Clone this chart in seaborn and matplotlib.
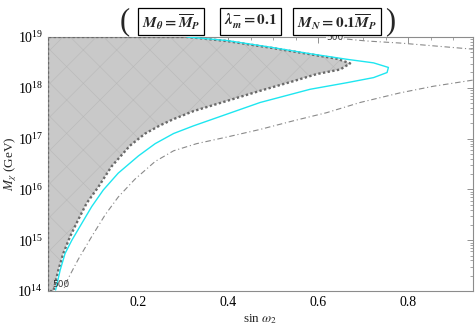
import numpy as np
import pandas as pd
import seaborn as sns
import matplotlib.pyplot as plt

# contorno da regiao excluida (cinza): sin w2 e log10(M_chi/GeV)
regiao_x = [0.0, 0.0, 0.308, 0.397, 0.493, 0.582, 0.642, 0.671,
            0.649, 0.597, 0.545, 0.471, 0.397, 0.323, 0.278, 0.249, 0.216,
            0.182, 0.141, 0.112, 0.086, 0.067, 0.049, 0.034, 0.023, 0.012]
regiao_logy = [14.0, 19.0, 19.0, 18.92, 18.79, 18.66, 18.57, 18.48,
               18.36, 18.27, 18.13, 17.94, 17.74, 17.54, 17.38, 17.26, 17.10,
               16.86, 16.45, 16.05, 15.73, 15.40, 15.07, 14.74, 14.41, 14.0]

# curva ciano
ciano_x = [0.308, 0.397, 0.493, 0.582, 0.664, 0.723, 0.756, 0.753, 0.723,
           0.664, 0.582, 0.471, 0.397, 0.323, 0.279, 0.238, 0.201,
           0.156, 0.123, 0.097, 0.075, 0.053, 0.038, 0.027, 0.017]
ciano_logy = [19.0, 18.93, 18.80, 18.67, 18.56, 18.49, 18.40, 18.30, 18.20,
              18.10, 17.97, 17.71, 17.48, 17.25, 17.10, 16.90, 16.66,
              16.32, 15.99, 15.66, 15.33, 15.0, 14.74, 14.41, 14.02]

# curva traco-ponto (contorno 500), dois ramos
tp_sup_x = [0.61, 0.649, 0.708, 0.782, 0.943]
tp_sup_logy = [19.0, 18.97, 18.92, 18.88, 18.76]
tp_inf_x = [0.943, 0.856, 0.782, 0.693, 0.619, 0.545, 0.471, 0.397, 0.33,
            0.279, 0.238, 0.193, 0.156, 0.127, 0.097, 0.067, 0.045, 0.034]
tp_inf_logy = [18.15, 18.03, 17.90, 17.71, 17.51, 17.35, 17.18, 17.03, 16.90,
               16.76, 16.55, 16.20, 15.85, 15.50, 15.07, 14.62, 14.25, 14.02]

rotulos_x = [0.638, 0.028]
rotulos_logy = [18.99, 14.12]
rotulos_txt = ['500', '500']

sns.set_theme(style='white')
plt.rcParams['font.family'] = ['Liberation Serif', 'DejaVu Serif']
plt.rcParams['mathtext.fontset'] = 'stix'
plt.rcParams['hatch.linewidth'] = 0.4

fig = plt.figure(figsize=(4.75, 3.27), dpi=100)
ax = fig.add_axes([0.101, 0.110, 0.894, 0.777])

# regiao cinza com malha fraca
ry = 10.0 ** np.array(regiao_logy)
ax.fill(regiao_x, ry, facecolor='#c9c9c9', edgecolor='none', zorder=1)
ax.fill(regiao_x, ry, facecolor='none', edgecolor='#b9b9b9', hatch='x',
        linewidth=0, zorder=1.5)

df_reg = pd.DataFrame({'x': regiao_x + [regiao_x[0]],
                       'y': list(ry) + [ry[0]]})
sns.lineplot(data=df_reg, x='x', y='y', sort=False, estimator=None, ax=ax,
             color='#6a6a6a', lw=1.7, linestyle=(0, (1, 1)), zorder=3)

df_ciano = pd.DataFrame({'x': ciano_x, 'y': 10.0 ** np.array(ciano_logy)})
sns.lineplot(data=df_ciano, x='x', y='y', sort=False, estimator=None, ax=ax,
             color='#1ee6f0', lw=1.0, zorder=4)

for xs, ls in [(tp_sup_x, tp_sup_logy), (tp_inf_x, tp_inf_logy)]:
    df_tp = pd.DataFrame({'x': xs, 'y': 10.0 ** np.array(ls)})
    sns.lineplot(data=df_tp, x='x', y='y', sort=False, estimator=None, ax=ax,
                 color='#8a8a8a', lw=0.8, linestyle=(0, (5, 2.5, 1, 2.5)),
                 zorder=2)

for xv, lv, t in zip(rotulos_x, rotulos_logy, rotulos_txt):
    ax.text(xv, 10.0 ** lv, t, fontsize=6.5, ha='center', va='center',
            color='#333333', family='DejaVu Sans', zorder=5,
            bbox=dict(boxstyle='square,pad=0.05', fc='white', ec='none',
                      alpha=0.8) if lv > 18.5 else None)

ax.set_yscale('log')
ax.set_xlim(0.0, 0.943)
ax.set_ylim(1e14, 1e19)
ax.set_xticks([0.2, 0.4, 0.6, 0.8])
ax.set_xticklabels(['0.2', '0.4', '0.6', '0.8'])
ax.set_xticks(np.arange(0.05, 0.94, 0.05), minor=True)
ax.set_yticks([1e14, 1e15, 1e16, 1e17, 1e18, 1e19])
ax.tick_params(which='both', direction='in', top=True, right=True,
               labelsize=10, colors='#808080', labelcolor='black')
ax.tick_params(which='major', length=4, width=0.6)
ax.tick_params(which='minor', length=2, width=0.5)
for s in ax.spines.values():
    s.set_color('#8c8c8c')
    s.set_linewidth(0.8)

ax.set_xlabel(r'sin $\omega_2$', fontsize=9.5)
ax.set_ylabel(r'$M_\chi$ (GeV)', fontsize=9.5)
ax.xaxis.set_label_coords(0.5, -0.083)
ax.yaxis.set_label_coords(-0.068, 0.5)

# titulo com caixas
yt = 0.934
fig.text(0.263, yt, '(', fontsize=22, ha='center', va='center')
fig.text(0.821, yt, ')', fontsize=22, ha='center', va='center')
caixa = dict(boxstyle='square,pad=0.25', fc='white', ec='black', lw=0.9)
fig.text(0.360, yt, r'$\mathbfit{M_\theta} \mathbf{=} \overline{\mathbfit{M}}_{\mathbfit{P}}$',
         fontsize=11, ha='center', va='center', bbox=caixa)
fig.text(0.528, yt, r'$\mathbfit{\lambda}_{\mathbfit{m}}^{\mathbf{-}} \mathbf{= 0.1}$',
         fontsize=11, ha='center', va='center', bbox=caixa)
fig.text(0.709, yt, r'$\mathbfit{M_N} \mathbf{= 0.1}\overline{\mathbfit{M}}_{\mathbfit{P}}$',
         fontsize=11, ha='center', va='center', bbox=caixa)

fig.savefig('out.png', dpi=100)
